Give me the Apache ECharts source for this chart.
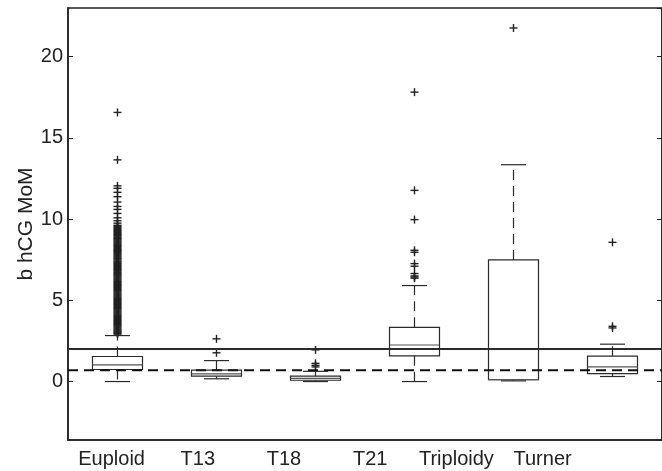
<!DOCTYPE html>
<html>
<head>
<meta charset="utf-8">
<script src="https://cdn.jsdelivr.net/npm/echarts@6/dist/echarts.min.js"></script>
<style>
html,body{margin:0;padding:0;background:#fff;}
#c{width:662px;height:471px;}
</style>
</head>
<body>
<div id="c"></div>
<script>
// ---- data ----
const labelCategories = ['Euploid', 'T13', 'T18', 'T21', 'Triploidy', 'Turner'];
const boxCategories = ['G1', 'G2', 'G3', 'G4', 'G5', 'G6'];
// [low whisker, q1, median, q3, high whisker]
const boxStats = [
  [0.00, 0.74, 1.03, 1.54, 2.83],
  [0.17, 0.33, 0.47, 0.70, 1.29],
  [0.00, 0.08, 0.20, 0.33, 0.63],
  [0.00, 1.58, 2.25, 3.34, 5.91],
  [0.04, 0.12, 0.12, 7.49, 13.35],
  [0.31, 0.49, 0.90, 1.56, 2.30]
];
const outliersG1 = [16.57, 13.65, 12.05, 11.9, 11.65, 11.38, 11.05, 10.78, 10.6, 10.35, 10.08, 9.9, 9.75,
  9.62, 9.55, 9.5, 9.42, 9.36, 9.3, 9.24, 9.18, 9.12, 9.06, 9.0, 8.95, 8.88, 8.82, 8.77, 8.72, 8.66, 8.6,
  8.54, 8.48, 8.42, 8.37, 8.31, 8.25, 8.18, 8.12, 8.07, 8.02, 7.96, 7.9, 7.84, 7.78, 7.72, 7.66, 7.6,
  7.55, 7.49, 7.42, 7.37, 7.31, 7.26, 7.2, 7.14, 7.08, 7.02, 6.96, 6.9, 6.85, 6.79, 6.72, 6.66, 6.61,
  6.55, 6.5, 6.44, 6.38, 6.32, 6.26, 6.2, 6.15, 6.09, 6.03, 5.97, 5.92, 5.86, 5.8, 5.74, 5.68, 5.62, 5.57,
  5.51, 5.45, 5.39, 5.33, 5.27, 5.21, 5.15, 5.1, 5.04, 4.98, 4.92, 4.86, 4.8, 4.75, 4.69, 4.63, 4.57,
  4.51, 4.46, 4.4, 4.34, 4.28, 4.22, 4.16, 4.1, 4.05, 3.99, 3.93, 3.87, 3.81, 3.75, 3.7, 3.64, 3.58,
  3.52, 3.47, 3.41, 3.35, 3.29, 3.23, 3.17, 3.12, 3.06, 3.01, 2.96, 2.92];
const outliersG2 = [2.63, 1.77];
const outliersG3 = [1.95, 1.12, 1.0, 0.9];
const outliersG4 = [17.82, 11.77, 9.97, 8.08, 7.96, 7.26, 7.1, 6.65, 6.5, 6.44, 6.36];
const outliersG5 = [21.77];
const outliersG6 = [8.57, 3.4, 3.3];
const refLines = [
  { value: 2.0, dashed: false },
  { value: 0.7, dashed: true }
];
const yMin = -3.6, yMax = 23;
const yName = 'b hCG MoM';

// ---- build ----
const outlierGroups = [outliersG1, outliersG2, outliersG3, outliersG4, outliersG5, outliersG6];
const boxData = boxStats.map((s, i) => [i].concat(s));
const outlierData = [];
outlierGroups.forEach((g, i) => g.forEach(v => outlierData.push([i, v])));
const refData = refLines.map(r => [0, r.value, r.dashed ? 1 : 0]);

const FONT = 'Liberation Sans, Arial, Helvetica, sans-serif';
const INK = '#222';

const chart = echarts.init(document.getElementById('c'), null, { renderer: 'canvas' });

chart.setOption({
  animation: false,
  backgroundColor: '#fff',
  grid: [
    { left: 68, top: 8, width: 600, height: 432, show: true, borderColor: INK, borderWidth: 1.5, backgroundColor: 'transparent' },
    { left: 68.5, top: 8, width: 517.2, height: 432 }
  ],
  xAxis: [
    { type: 'category', gridIndex: 0, data: boxCategories,
      axisLine: { show: true, onZero: false, lineStyle: { color: INK, width: 1.5 } },
      axisTick: { show: false }, axisLabel: { show: false }, splitLine: { show: false } },
    { type: 'category', gridIndex: 1, data: labelCategories,
      axisLine: { show: false, onZero: false }, axisTick: { show: false }, splitLine: { show: false },
      axisLabel: { show: true, color: INK, fontSize: 20, fontFamily: FONT, margin: 9, interval: 0 } }
  ],
  yAxis: [
    { type: 'value', gridIndex: 0, min: yMin, max: yMax, position: 'left',
      name: yName, nameLocation: 'middle', nameGap: 31, nameRotate: 90, nameMoveOverlap: false,
      nameTextStyle: { color: INK, fontSize: 21, fontFamily: FONT },
      axisLine: { show: true, lineStyle: { color: INK, width: 1.5 } },
      axisTick: { show: true, inside: true, length: 5, lineStyle: { color: INK, width: 1 } },
      axisLabel: { color: INK, fontSize: 20, fontFamily: FONT, margin: 5, showMinLabel: false, showMaxLabel: false },
      splitLine: { show: false } },
    { type: 'value', gridIndex: 0, min: yMin, max: yMax, position: 'right',
      axisLine: { show: true, lineStyle: { color: INK, width: 1.5 } },
      axisTick: { show: true, inside: true, length: 5, lineStyle: { color: INK, width: 1 } },
      axisLabel: { show: false }, splitLine: { show: false } },
    { type: 'value', gridIndex: 1, min: 0, max: 1, show: false }
  ],
  series: [
    {
      type: 'custom', xAxisIndex: 0, yAxisIndex: 0, data: refData, z: 5,
      renderItem: function (params, api) {
        const y = api.coord([0, api.value(1)])[1];
        const cs = params.coordSys;
        const dashed = api.value(2) === 1;
        return {
          type: 'line',
          shape: { x1: cs.x, y1: y, x2: cs.x + cs.width, y2: y },
          style: { stroke: dashed ? '#111' : '#2b2b2b', lineWidth: 2, lineDash: dashed ? [10, 6] : null }
        };
      }
    },
    {
      type: 'custom', xAxisIndex: 0, yAxisIndex: 0, data: boxData, z: 3,
      renderItem: function (params, api) {
        const idx = api.value(0);
        const p = v => api.coord([idx, v]);
        const x = p(0)[0];
        const yl = p(api.value(1))[1], y1 = p(api.value(2))[1], ym = p(api.value(3))[1],
              y3 = p(api.value(4))[1], yh = p(api.value(5))[1];
        const hw = 25, cw = 12.5;
        const st = { stroke: '#2a2a2a', lineWidth: 1.2, fill: null };
        const dash = { stroke: '#2a2a2a', lineWidth: 1.2, lineDash: [10, 6] };
        return {
          type: 'group',
          children: [
            { type: 'line', shape: { x1: x, y1: y3, x2: x, y2: yh }, style: dash },
            { type: 'line', shape: { x1: x, y1: y1, x2: x, y2: yl }, style: dash },
            { type: 'line', shape: { x1: x - cw, y1: yh, x2: x + cw, y2: yh }, style: st },
            { type: 'line', shape: { x1: x - cw, y1: yl, x2: x + cw, y2: yl }, style: st },
            { type: 'rect', shape: { x: x - hw, y: y3, width: 2 * hw, height: y1 - y3 }, style: { stroke: '#2a2a2a', lineWidth: 1.2, fill: 'rgba(255,255,255,0)' } },
            { type: 'line', shape: { x1: x - hw, y1: ym, x2: x + hw, y2: ym }, style: { stroke: '#555', lineWidth: 1.2 } }
          ]
        };
      }
    },
    {
      type: 'custom', xAxisIndex: 0, yAxisIndex: 0, data: outlierData, z: 4,
      renderItem: function (params, api) {
        const c = api.coord([api.value(0), api.value(1)]);
        const s = 4;
        const st = { stroke: '#222', lineWidth: 1.4 };
        return {
          type: 'group',
          children: [
            { type: 'line', shape: { x1: c[0] - s, y1: c[1], x2: c[0] + s, y2: c[1] }, style: st },
            { type: 'line', shape: { x1: c[0], y1: c[1] - s, x2: c[0], y2: c[1] + s }, style: st }
          ]
        };
      }
    }
  ]
});
</script>
</body>
</html>
